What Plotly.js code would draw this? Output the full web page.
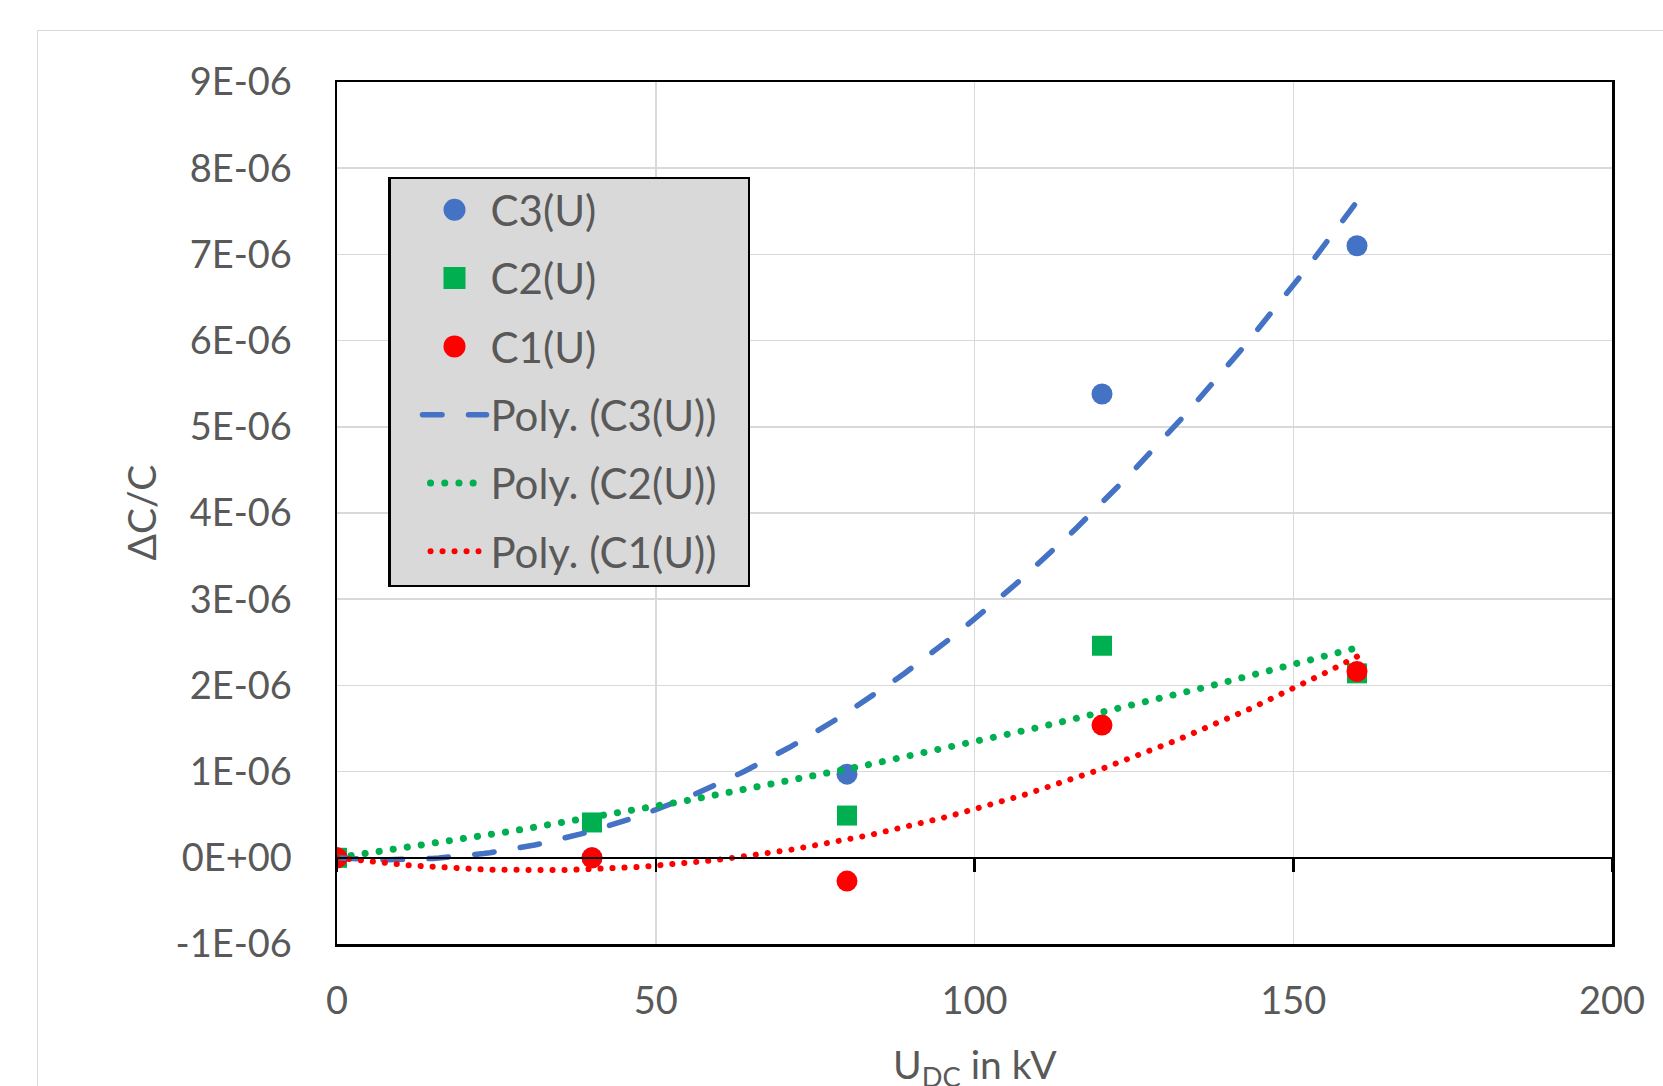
<!DOCTYPE html>
<html>
<head>
<meta charset="utf-8">
<script src="https://cdn.plot.ly/plotly-3.0.1.min.js"></script>
<style>
  html, body { margin: 0; padding: 0; background: #ffffff; overflow: hidden; }
  #frame { position: absolute; left: 37px; top: 30px; width: 1700px; height: 1200px;
           border: 1.5px solid #d9d9d9; box-sizing: border-box; }
  #chart { position: absolute; left: 0; top: 0; width: 1663px; height: 1086px; }
  .js-line { stroke-linecap: round !important; }
  .legendlines path { stroke-linecap: round !important; }
</style>
</head>
<body>
<div id="frame"></div>
<div id="chart"></div>
<script>
// ---- data ----
var voltage = [0, 40, 80, 120, 160];               // U_DC in kV
var c3 = [0, 0.0e-6, 0.97e-6, 5.38e-6, 7.10e-6];   // C3(U)  (value at 40 kV hidden under the C1 marker)
var c2 = [0, 0.41e-6, 0.49e-6, 2.46e-6, 2.14e-6];  // C2(U)
var c1 = [0, 0.0e-6, -0.27e-6, 1.54e-6, 2.16e-6];  // C1(U)
var yTickVals = [-1e-6, 0, 1e-6, 2e-6, 3e-6, 4e-6, 5e-6, 6e-6, 7e-6, 8e-6, 9e-6];
var yTickText = ['-1E-06', '0E+00', '1E-06', '2E-06', '3E-06', '4E-06', '5E-06', '6E-06', '7E-06', '8E-06', '9E-06'];
var xTickVals = [0, 50, 100, 150, 200];

// ---- order-2 polynomial trendline (least squares through the origin, as the Excel trendline) ----
function polyFit0(xs, ys) {
  var s2 = 0, s3 = 0, s4 = 0, sxy = 0, sx2y = 0;
  for (var i = 0; i < xs.length; i++) {
    var x = xs[i], y = ys[i];
    s2 += x * x; s3 += x * x * x; s4 += x * x * x * x;
    sxy += x * y; sx2y += x * x * y;
  }
  var det = s2 * s4 - s3 * s3;
  var b = (sxy * s4 - s3 * sx2y) / det;
  var c = (s2 * sx2y - s3 * sxy) / det;
  return function (x) { return b * x + c * x * x; };
}
function trend(xs, ys) {
  var f = polyFit0(xs, ys);
  var xmax = Math.max.apply(null, xs), xmin = Math.min.apply(null, xs);
  var tx = [], ty = [];
  var n = 160;
  for (var k = 0; k <= n; k++) {
    var x = xmin + (xmax - xmin) * k / n;
    tx.push(x); ty.push(f(x));
  }
  return {x: tx, y: ty};
}
var t3 = trend(voltage, c3), t2 = trend(voltage, c2), t1 = trend(voltage, c1);

var BLUE = '#4472C4', GREEN = '#00B050', RED = '#FF0000';
var TXT = '#595959';
var FONT = 'Lato, "Open Sans", sans-serif';

var traces = [
  {x: voltage, y: c3, name: 'C3(U)', mode: 'markers', type: 'scatter', legendgroup: 'a',
   marker: {symbol: 'circle', size: 21, color: BLUE}},
  {x: voltage, y: c2, name: 'C2(U)', mode: 'markers', type: 'scatter', legendgroup: 'b',
   marker: {symbol: 'square', size: 20, color: GREEN}},
  {x: voltage, y: c1, name: 'C1(U)', mode: 'markers', type: 'scatter', legendgroup: 'c',
   marker: {symbol: 'circle', size: 21, color: RED}},
  {x: t3.x, y: t3.y, name: 'Poly. (C3(U))', mode: 'lines', type: 'scatter', xaxis: 'x2', legendgroup: 'd',
   line: {color: BLUE, width: 5.5, dash: '19.5px,26.5px'}},
  {x: t2.x, y: t2.y, name: 'Poly. (C2(U))', mode: 'lines', type: 'scatter', xaxis: 'x2', legendgroup: 'e',
   line: {color: GREEN, width: 7, dash: '0.1px,14.1px'}},
  {x: t1.x, y: t1.y, name: 'Poly. (C1(U))', mode: 'lines', type: 'scatter', xaxis: 'x2', legendgroup: 'f',
   line: {color: RED, width: 6, dash: '0.1px,11.9px'}}
];

var layout = {
  width: 1663, height: 1086,
  margin: {l: 337, r: 51, t: 82, b: 142, pad: 0},
  paper_bgcolor: 'rgba(0,0,0,0)',
  plot_bgcolor: 'rgba(0,0,0,0)',
  font: {family: FONT, size: 38, color: TXT},
  showlegend: true,
  hovermode: false,
  xaxis: {
    range: [0, 200], tickvals: xTickVals, ticktext: xTickVals.map(String),
    showgrid: true, gridcolor: '#d9d9d9', gridwidth: 1.5,
    showline: true, mirror: true, linecolor: '#000000', linewidth: 2.5,
    ticks: '', zeroline: false, ticklabelstandoff: 22,
    tickfont: {family: FONT, size: 38, color: TXT}
  },
  xaxis2: {
    overlaying: 'x', matches: 'x', anchor: 'free', position: 0.1,
    range: [0, 200], tickvals: xTickVals, showticklabels: false,
    showgrid: false, zeroline: false,
    showline: true, linecolor: '#000000', linewidth: 2.5,
    ticks: 'outside', ticklen: 13, tickwidth: 2.5, tickcolor: '#000000'
  },
  yaxis: {
    range: [-1e-6, 9e-6], tickvals: yTickVals, ticktext: yTickText,
    showgrid: true, gridcolor: '#d9d9d9', gridwidth: 1.5,
    showline: true, mirror: true, linecolor: '#000000', linewidth: 2.5,
    ticks: '', zeroline: false, ticklabelstandoff: 35,
    tickfont: {family: FONT, size: 38, color: TXT}
  },
  legend: {
    x: 0.04, y: 0.8898, xanchor: 'left', yanchor: 'top',
    bgcolor: '#d9d9d9', bordercolor: '#000000', borderwidth: 2.5,
    font: {family: FONT, size: 42, color: TXT},
    itemwidth: 90, tracegroupgap: 10.7, traceorder: 'grouped'
  },
  annotations: [
    {text: '\u0394C/C', xref: 'paper', yref: 'paper', x: 0, y: 0.5, xanchor: 'center', yanchor: 'middle',
     xshift: -196.5, textangle: -90, showarrow: false, font: {family: FONT, size: 39, color: TXT}},
    {text: 'U<sub>DC</sub> in kV', xref: 'paper', yref: 'paper', x: 0.5, y: 0, xanchor: 'center', yanchor: 'top',
     yshift: -95, showarrow: false, font: {family: FONT, size: 39, color: TXT}}
  ]
};

// legend styling: Excel-like symbol placement, full-size markers and line styles
function styleLegend(gd) {
  try {
    var leg = gd.querySelector('.legend');
    if (!leg) return;
    var bg = leg.querySelector('rect.bg');
    if (bg) {
      var br = bg.getBoundingClientRect();
      var w = parseFloat(bg.getAttribute('width'));
      var h = parseFloat(bg.getAttribute('height'));
      bg.setAttribute('width', w + (749 - br.right));
      bg.setAttribute('height', h + (586 - br.bottom));
    }
    var sb = leg.querySelector('g.scrollbox');
    if (sb) {
      sb.setAttribute('transform', (sb.getAttribute('transform') || '') + ' translate(0,-3.5)');
    }
    var items = leg.querySelectorAll('g.traces');
    items.forEach(function (g) {
      var dat = g.__data__;
      var tr = dat && dat[0] && dat[0].trace;
      var text = g.querySelector('text.legendtext');
      if (!text) return;
      var textLeft = text.getBoundingClientRect().left;
      g.querySelectorAll('.legendlines path').forEach(function (p) {
        var bb = p.getBBox();
        var cy = bb.y + bb.height / 2, cx = bb.x + bb.width / 2;
        var dotted = tr && tr.line && String(tr.line.dash).indexOf('0.1') === 0;
        var L = dotted ? 48 : 64;
        p.setAttribute('d', 'M' + (cx - L / 2) + ',' + cy + 'h' + L);
        if (tr && tr.line) {
          p.style.strokeWidth = tr.line.width + 'px';
          p.style.strokeDasharray = tr.line.dash;
          p.style.strokeLinecap = 'round';
        }
      });
      g.querySelectorAll('path.scatterpts').forEach(function (p) {
        var bb = p.getBBox();
        if (bb.width > 0) {
          var s = 22 / bb.width;
          p.setAttribute('transform', (p.getAttribute('transform') || '') + ' scale(' + s + ')');
        }
      });
      var grp = g.querySelector('g.layers') || g.querySelector('g.legendpoints');
      if (grp) {
        var r = grp.getBoundingClientRect();
        var dx = (textLeft - 36) - (r.left + r.width / 2);
        grp.setAttribute('transform', (grp.getAttribute('transform') || '') + ' translate(' + dx + ',0)');
      }
    });
  } catch (e) { /* keep default legend */ }
}

Plotly.newPlot('chart', traces, layout, {displayModeBar: false, staticPlot: true}).then(function (gd) {
  styleLegend(gd);
});
</script>
</body>
</html>
